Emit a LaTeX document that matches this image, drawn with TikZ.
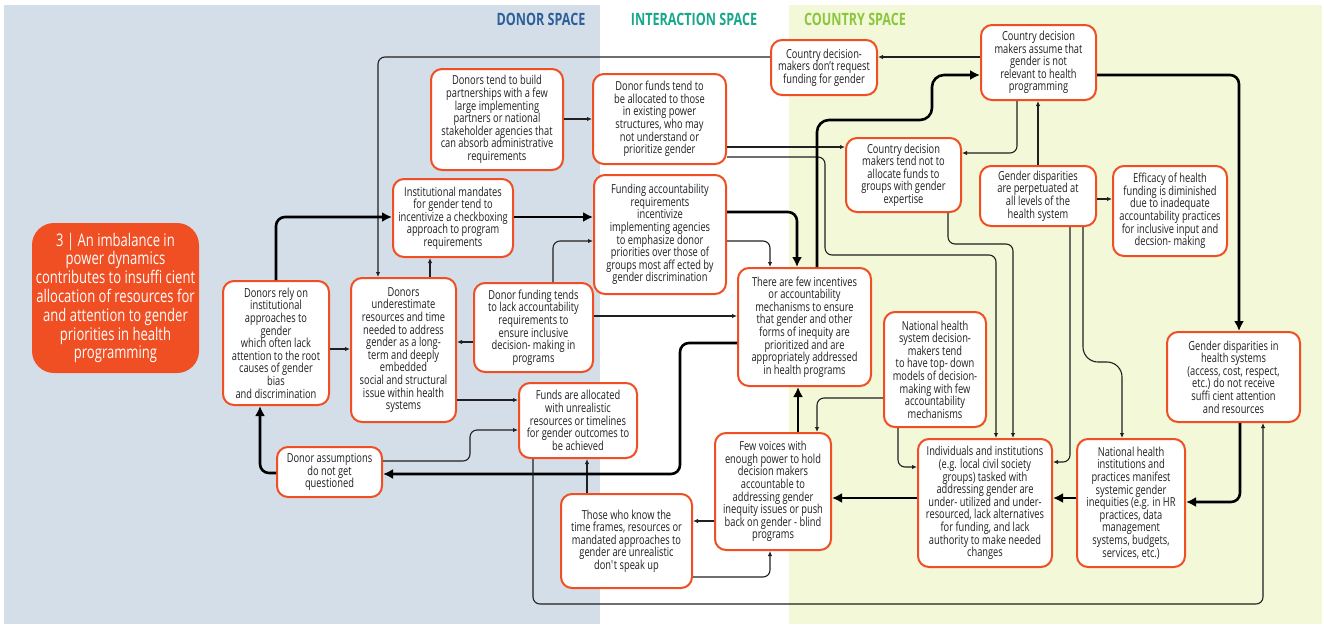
\documentclass[tikz,border=0pt]{standalone}
\usepackage{fontspec}
\setmainfont{Open Sans}[FakeStretch=0.75]
\newfontfamily\hdrfont{Open Sans}[FakeStretch=0.74]
\usetikzlibrary{arrows.meta}
\definecolor{orn}{HTML}{F04E23}
\definecolor{txt}{HTML}{231F20}
\definecolor{dbg}{HTML}{D4DEE8}
\definecolor{cbg}{HTML}{F3F8D8}
\definecolor{dhd}{HTML}{2D5F9A}
\definecolor{ihd}{HTML}{17A88A}
\definecolor{chd}{HTML}{8CC63F}
\newcommand\boxfont{\fontsize{12.4}{12.6}\selectfont}
\tikzset{
  box/.style={draw=orn, line width=2pt, fill=white, rounded corners=11pt, align=center, inner sep=2pt, font=\boxfont, text=txt},
  flow/.style={draw=txt, line width=1.1pt, -{Latex[length=5pt,width=4.5pt]}, rounded corners=7pt},
  flowb/.style={draw=black, line width=2.6pt, -{Latex[length=10pt,width=10pt]}, rounded corners=9pt},
  hdr/.style={font=\hdrfont\fontsize{17}{17}\selectfont\bfseries, inner sep=0pt},
}
\begin{document}
\begin{tikzpicture}[x=1pt,y=-1pt]
\useasboundingbox (0,0) rectangle (1324,624);
\fill[white] (0,0) rectangle (1324,624);
\fill[dbg] (4,5) rectangle (600,624);
\fill[cbg] (789,5) rectangle (1322,624);
\node[hdr, text=dhd] (H1) at (541,19) {DONOR SPACE};
\node[hdr, text=ihd] (H2) at (694,19) {INTERACTION SPACE};
\node[hdr, text=chd] (H3) at (855,19) {COUNTRY SPACE};

\node[fill=orn, rounded corners=22pt, minimum width=167pt, minimum height=150pt, align=center, text=white, font=\fontsize{17.4}{18.8}\selectfont, inner sep=2pt] (T) at (115.5,298) {3 | An imbalance in\\power dynamics\\contributes to insuffi cient\\allocation of resources for\\and attention to gender\\priorities in health\\programming};

\node[box, minimum width=132pt, minimum height=101pt] (N1) at (497,119.5) {Donors tend to build\\partnerships with a few\\large implementing\\partners or national\\stakeholder agencies that\\can absorb administrative\\requirements};
\node[box, minimum width=133pt, minimum height=90pt] (N2) at (659.5,119) {Donor funds tend to\\be allocated to those\\in existing power\\structures, who may\\not understand or\\prioritize gender};
\node[box, minimum width=106pt, minimum height=55pt] (N3) at (824,67.5) {Country decision-\\makers don’t request\\funding for gender};
\node[box, minimum width=115pt, minimum height=75pt] (N4) at (1038.5,62.5) {Country decision\\makers assume that\\gender is not\\relevant to health\\programming};
\node[box, minimum width=120pt, minimum height=78pt] (N5) at (453,218) {Institutional mandates\\for gender tend to\\incentivize a checkboxing\\approach to program\\requirements};
\node[box, minimum width=132pt, minimum height=119pt] (N6) at (660,234.5) {Funding accountability\\requirements\\incentivize\\implementing agencies\\to emphasize donor\\priorities over those of\\groups most aff ected by\\gender discrimination};
\node[box, minimum width=115pt, minimum height=74pt] (N7) at (903.5,175) {Country decision\\makers tend not to\\allocate funds to\\groups with gender\\expertise};
\node[box, minimum width=116pt, minimum height=60pt] (N8) at (1038,196) {Gender disparities\\are perpetuated at\\all levels of the\\health system};
\node[box, minimum width=114pt, minimum height=90pt] (N9) at (1170,211) {Efficacy of health\\funding is diminished\\due to inadequate\\accountability practices\\for inclusive input and\\decsion- making};
\node[box, minimum width=106pt, minimum height=124pt] (N10) at (276,343) {Donors rely on\\institutional\\approaches to\\gender\\which often lack\\attention to the root\\causes of gender\\bias\\and discrimination};
\node[box, minimum width=105pt, minimum height=144pt] (N11) at (403.5,350) {Donors\\underestimate\\resources and time\\needed to address\\gender as a long-\\term and deeply\\embedded\\social and structural\\issue within health\\systems};
\node[box, minimum width=119pt, minimum height=89pt] (N12) at (533.5,327.5) {Donor funding tends\\to lack accountability\\requirements to\\ensure inclusive\\decision- making in\\programs};
\node[box, minimum width=133pt, minimum height=118pt] (N13) at (804.5,327) {There are few incentives\\or accountability\\mechanisms to ensure\\that gender and other\\forms of inequity are\\prioritized and are\\appropriately addressed\\in health programs};
\node[box, minimum width=102pt, minimum height=115pt] (N14) at (935,369.5) {National health\\system decision-\\makers tend\\to have top- down\\models of decision-\\making with few\\accountability\\mechanisms};
\node[box, minimum width=133pt, minimum height=90pt] (N15) at (1233.5,377) {Gender disparities in\\health systems\\(access, cost, respect,\\etc.) do not receive\\suffi cient attention\\and resources};
\node[box, minimum width=118pt, minimum height=75pt] (N16) at (578,420.5) {Funds are allocated\\with unrealistic\\resources or timelines\\for gender outcomes to\\be achieved};
\node[box, minimum width=105pt, minimum height=50pt] (N17) at (329.5,472) {Donor assumptions\\do not get\\questioned};
\node[box, minimum width=116pt, minimum height=117pt] (N18) at (773,491.5) {Few voices with\\enough power to hold\\decision makers\\accountable to\\addressing gender\\inequity issues or push\\back on gender - blind\\programs};
\node[box, minimum width=131pt, minimum height=94pt] (N19) at (626.5,541) {Those who know the\\time frames, resources or\\mandated approaches to\\gender are unrealistic\\don\textquotesingle t speak up};
\node[box, minimum width=134pt, minimum height=128pt] (N20) at (985,503) {Individuals and institutions\\(e.g. local civil society\\groups) tasked with\\addressing gender are\\under- utilized and under-\\resourced, lack alternatives\\for funding, and lack\\authority to make needed\\changes};
\node[box, minimum width=108pt, minimum height=128pt] (N21) at (1131,503) {National health\\institutions and\\practices manifest\\systemic gender\\inequities (e.g. in HR\\practices, data\\management\\systems, budgets,\\services, etc.)};

% connectors
\draw[flow] (N4.west |- 0,57) -- (N3.east |- 0,57);
\draw[flow] (N3.west |- 0,57) -| (378,0 |- N11.north);
\draw[flow] (N1.east |- 0,119) -- (N2.west |- 0,119);
\draw[flow] (430,0 |- N11.north) -- (430,0 |- N5.south);
\draw[flowb] (N10.north) |- (N5.west |- 0,217);
\draw[flowb] (N5.east |- 0,217) -- (N6.west |- 0,217);
\draw[flow] (553,0 |- N12.north) |- (N6.west |- 0,241);
\draw[flowb] (N6.east |- 0,212) -| (797,0 |- N13.north);
\draw[flow] (N6.east |- 0,241) -| (770,0 |- N13.north);
\draw[flow] (N2.east |- 0,147) -- (N7.west |- 0,147);
\draw[flow] (N2.east |- 0,157) -| (825,255) -| (996,0 |- N20.north);
\draw[flow] (948,0 |- N7.south) |- (1013,244) -- (1013,0 |- N20.north);
\draw[flow] (1017,0 |- N4.south) |- (N7.east |- 0,153);
\draw[flow] (N8.north) -- (N8.north |- N4.south);
\draw[flow] (N8.east |- 0,199) -- (N9.west |- 0,199);
\draw[flowb] (N4.east |- 0,75) -| (1239,0 |- N15.north);
\draw[flowb, rounded corners=12pt] (817,0 |- N13.north) |- (932,120) |- (N4.west |- 0,75);
\draw[flow] (1070,0 |- N8.south) |- (N20.east |- 0,462);
\draw[flow, rounded corners=15pt] (1083,0 |- N8.south) |- (1122,362) -- (1122,0 |- N21.north);
\draw[flowb] (1240,0 |- N15.south) |- (N21.east |- 0,502);
\draw[flowb] (N21.west |- 0,498) -- (N20.east |- 0,498);
\draw[flowb] (N20.west |- 0,498) -- (N18.east |- 0,498);
\draw[flowb] (798,0 |- N18.north) -- (798,0 |- N13.south);
\draw[flow] (N14.west |- 0,398) -| (817,0 |- N18.north);
\draw[flow] (898,0 |- N14.south) |- (N20.west |- 0,467);
\draw[flow] (N18.west |- 0,521) -- (N19.east |- 0,521);
\draw[flow] (N19.east |- 0,577) -| (770,0 |- N18.south);
\draw[flow] (587,0 |- N19.north) -- (587,0 |- N16.south);
\draw[flowb] (N13.west |- 0,343) -| (680,474) -- (N17.east |- 0,474);
\draw[flow] (N17.east |- 0,461) -| (470,430) -- (N16.west |- 0,430);
\draw[flowb] (N17.west |- 0,473) -| (260,0 |- N10.south);
\draw[flow] (N10.east |- 0,349) -- (N11.west |- 0,349);
\draw[flow] (N12.west |- 0,342) -- (N11.east |- 0,342);
\draw[flow] (N11.east |- 0,400) -- (N16.west |- 0,400);
\draw[flow] (N12.east |- 0,316) -- (N13.west |- 0,316);
\draw[flow] (533,0 |- N16.south) |- (1263,604) -- (1263,0 |- N15.south);
\end{tikzpicture}
\end{document}
